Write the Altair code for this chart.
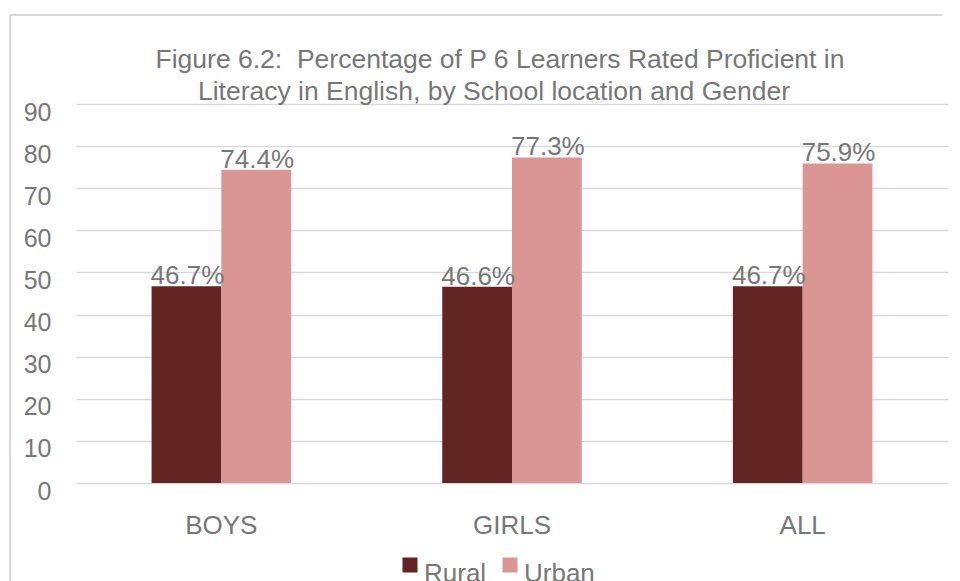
import altair as alt
import pandas as pd

categories = ["BOYS", "GIRLS", "ALL"]
locations = ["Rural", "Urban"]
rural = [46.7, 46.6, 46.7]
urban = [74.4, 77.3, 75.9]
title_lines = ["Figure 6.2:\u00a0 Percentage of P 6 Learners Rated Proficient in",
               "Literacy in English, by School location and Gender"]
colors = ["#632523", "#D99694"]

rows = []
for c, r, u in zip(categories, rural, urban):
    rows.append({"cat": c, "loc": "Rural", "val": r, "lbl": f"{r:.1f}%"})
    rows.append({"cat": c, "loc": "Urban", "val": u, "lbl": f"{u:.1f}%"})
df = pd.DataFrame(rows)

FONT = "Liberation Sans"
GRAY = "#777777"

x = alt.X("cat:N", sort=categories, title=None,
          scale=alt.Scale(paddingInner=0.52, paddingOuter=0.26),
          axis=alt.Axis(labelAngle=0, labelFontSize=26, labelColor=GRAY, labelFont=FONT,
                        ticks=False, domain=False, labelPadding=29, grid=False))
xo = alt.XOffset("loc:N", sort=locations, scale=alt.Scale(paddingInner=0, paddingOuter=0))
y = alt.Y("val:Q", title=None,
          scale=alt.Scale(domain=[0, 90], nice=False),
          axis=alt.Axis(values=list(range(0, 91, 10)), labelFontSize=25, labelColor=GRAY,
                        labelFont=FONT, ticks=False, domain=False, labelPadding=25,
                        labelOffset=8, gridColor="#d9d9d9", gridWidth=1.6))

bars = alt.Chart(df).mark_bar().encode(
    x=x, xOffset=xo, y=y,
    color=alt.Color("loc:N", sort=locations, title=None,
                    scale=alt.Scale(domain=locations, range=colors),
                    legend=alt.Legend(orient="none", direction="horizontal",
                                      legendX=321, legendY=457,
                                      symbolType="M-1,-2.2H1V-0.2H-1Z", symbolSize=225,
                                      symbolStrokeWidth=0,
                                      labelFontSize=26, labelColor=GRAY, labelFont=FONT,
                                      labelOffset=1, columnPadding=10)),
)

labels = alt.Chart(df).mark_text(fontSize=26, color=GRAY, font=FONT,
                                 baseline="alphabetic", dy=-2, dx=1).encode(
    x=alt.X("cat:N", sort=categories), xOffset=xo, y="val:Q", text="lbl:N")

one = alt.Data(values=[{"a": 1}])

border_top = alt.Chart(one).mark_rule(color="#d9d9d9", strokeWidth=2).encode(
    x=alt.value(-66), x2=alt.value(866), y=alt.value(-89))
border_left = alt.Chart(one).mark_rule(color="#d9d9d9", strokeWidth=2).encode(
    x=alt.value(-66), y=alt.value(-89), y2=alt.value(600))

title1 = alt.Chart(one).mark_text(fontSize=26.5, color=GRAY, font=FONT, align="center",
                                  baseline="alphabetic").encode(
    x=alt.value(424), y=alt.value(-36), text=alt.value(title_lines[0]))
title2 = alt.Chart(one).mark_text(fontSize=26.5, color=GRAY, font=FONT, align="center",
                                  baseline="alphabetic").encode(
    x=alt.value(418), y=alt.value(-4), text=alt.value(title_lines[1]))

chart = alt.layer(border_top, border_left, bars, labels, title1, title2).properties(
    width=872, height=379,
    padding={"left": 68, "top": 96, "right": 4, "bottom": 120},
    autosize=alt.AutoSizeParams(type="none"),
).configure_view(stroke=None)

chart.save("out.html", embed_options={"renderer": "svg", "actions": False})
